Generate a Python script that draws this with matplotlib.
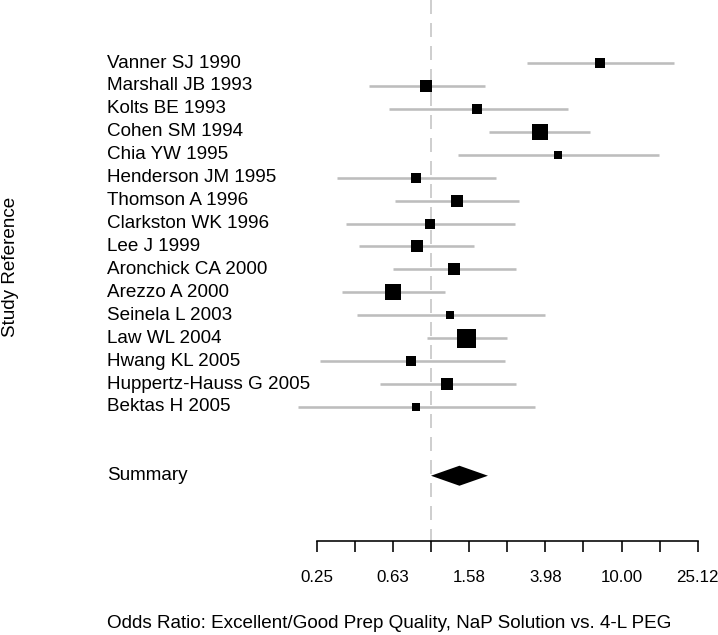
import numpy as np
import matplotlib
matplotlib.use("Agg")
import matplotlib.pyplot as plt
from matplotlib.patches import Polygon
from matplotlib.ticker import FixedLocator, FixedFormatter, NullFormatter

# ---------------- data ----------------
studies = [
    "Vanner SJ 1990", "Marshall JB 1993", "Kolts BE 1993", "Cohen SM 1994",
    "Chia YW 1995", "Henderson JM 1995", "Thomson A 1996", "Clarkston WK 1996",
    "Lee J 1999", "Aronchick CA 2000", "Arezzo A 2000", "Seinela L 2003",
    "Law WL 2004", "Hwang KL 2005", "Huppertz-Hauss G 2005", "Bektas H 2005",
]
odds_ratio = [7.71, 0.94, 1.75, 3.73, 4.62, 0.83, 1.37, 0.99,
              0.84, 1.32, 0.63, 1.26, 1.53, 0.79, 1.22, 0.83]
ci_lower = [3.18, 0.47, 0.60, 2.02, 1.39, 0.32, 0.65, 0.36,
            0.42, 0.63, 0.34, 0.41, 0.95, 0.26, 0.54, 0.20]
ci_upper = [18.9, 1.92, 5.22, 6.83, 15.7, 2.19, 2.91, 2.76,
            1.68, 2.80, 1.19, 3.95, 2.50, 2.45, 2.80, 3.52]
weights = [4.3, 7.0, 3.7, 10.1, 2.6, 5.2, 7.0, 4.1,
           7.0, 7.0, 10.7, 2.8, 15.6, 3.7, 7.0, 2.3]   # study weight (%), box area

summary_label = "Summary"
summary_or = 1.41
summary_lower = 1.00
summary_upper = 1.99

tick_values = [0.25, 0.63, 1.58, 3.98, 10.00, 25.12]
tick_labels = ["0.25", "0.63", "1.58", "3.98", "10.00", "25.12"]

xlabel = "Odds Ratio: Excellent/Good Prep Quality, NaP Solution vs. 4-L PEG"
ylabel = "Study Reference"

# ---------------- layout ----------------
W, H, DPI = 718, 635, 100
plt.rcParams["font.family"] = ["Liberation Sans", "DejaVu Sans"]
FS = 13.6
TFS = 12.2

fig = plt.figure(figsize=(W / DPI, H / DPI), dpi=DPI)
ax = fig.add_axes([0, 0, 1, 1])
ax.set_xscale("log")

px_null = 431.0      # pixel x of OR = 1
px_decade = 190.5    # pixels per decade
row_top_px = 63.0
row_px = 22.93

ax.set_xlim(10 ** (-px_null / px_decade), 10 ** ((W - px_null) / px_decade))
ax.set_ylim(-(H - row_top_px) / row_px, row_top_px / row_px)

def px2pt(p):
    return p * 72.0 / DPI

n = len(studies)
rows = -np.arange(n)
summary_row = -(n - 1) - 3
axis_y = -(540.5 - row_top_px) / row_px

# null line
ax.plot([1, 1], [ax.get_ylim()[1], axis_y], color="#cfcfcf", lw=px2pt(2),
        linestyle=(0, (7.0, 4.5)), zorder=1, solid_capstyle="butt")

# CIs
for y, lo, hi in zip(rows, ci_lower, ci_upper):
    ax.plot([lo, hi], [y, y], color="#bdbdbd", lw=px2pt(2.6), zorder=2,
            solid_capstyle="butt")

# boxes
w = np.array(weights)
sides_px = 19.0 * np.sqrt(w / w.max())
for x, y, s in zip(odds_ratio, rows, sides_px):
    ax.plot([x], [y], marker="s", markersize=px2pt(s), color="black",
            markeredgewidth=0, linestyle="none", zorder=3)

# summary diamond
half_h = 10.0 / row_px
diamond = Polygon([[summary_lower, summary_row], [summary_or, summary_row + half_h],
                   [summary_upper, summary_row], [summary_or, summary_row - half_h]],
                  closed=True, facecolor="black", edgecolor="black", lw=0, zorder=3)
ax.add_patch(diamond)

# study labels
ytr = ax.get_yaxis_transform()
for y, name in zip(rows, studies):
    ax.text(107 / W, y, name, transform=ytr, ha="left", va="center", fontsize=FS)
ax.text(107 / W, summary_row, summary_label, transform=ytr, ha="left",
        va="center", fontsize=FS)

# x axis
for s in ["top", "left", "right"]:
    ax.spines[s].set_visible(False)
ax.spines["bottom"].set_position(("data", axis_y))
major_pos = [10 ** np.round(np.log10(v), 1) for v in tick_values]
minor_pos = [np.sqrt(a * b) for a, b in zip(major_pos[:-1], major_pos[1:])]
ax.spines["bottom"].set_bounds(major_pos[0], major_pos[-1])
ax.spines["bottom"].set_linewidth(px2pt(1.6))
ax.xaxis.set_major_locator(FixedLocator(major_pos))
ax.xaxis.set_major_formatter(FixedFormatter(tick_labels))
ax.xaxis.set_minor_locator(FixedLocator(minor_pos))
ax.xaxis.set_minor_formatter(NullFormatter())
ax.tick_params(axis="x", which="both", direction="out", length=px2pt(11),
               width=px2pt(1.6), color="black", labelsize=TFS, pad=px2pt(18))
ax.yaxis.set_visible(False)

fig.text(107 / W, 1 - 623 / H, xlabel, ha="left", va="center", fontsize=FS)
fig.text(11 / W, 1 - 267 / H, ylabel, rotation=90, ha="center", va="center",
         fontsize=FS)

fig.savefig("out.png", dpi=DPI, facecolor="white")
